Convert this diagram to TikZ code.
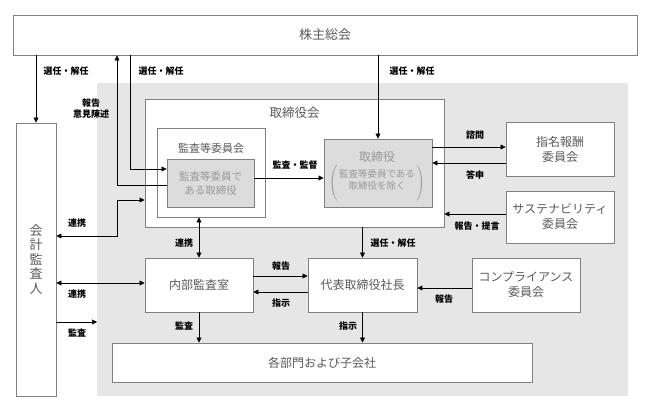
\documentclass[tikz,border=0pt]{standalone}
\usepackage{fontspec}
\setmainfont{Noto Sans CJK JP}
\usepackage{tikz}
\usetikzlibrary{arrows.meta,calc,positioning}
\definecolor{boxline}{HTML}{808080}
\definecolor{boxtext}{HTML}{5A5A5A}
\definecolor{bggray}{HTML}{E6E6E6}
\definecolor{innerfill}{HTML}{DCDCDC}
\definecolor{innertext}{HTML}{999999}
\tikzstyle{block} = [rectangle, draw=boxline, line width=0.9pt, fill=white, text=boxtext, align=center,
font=\fontsize{12}{15}\selectfont, inner sep=0pt]
\tikzstyle{greyblock} = [block, fill=innerfill, text=innertext]
\tikzstyle{title} = [text=boxtext, font=\fontsize{11}{14}\selectfont]
\tikzstyle{lbl} = [font=\bfseries\fontsize{9}{11.5}\selectfont, align=center, inner sep=1pt]
\tikzstyle{line} = [draw, line width=0.6pt, -{Triangle[length=5pt,width=5pt]}]
\tikzstyle{biline} = [line, {Triangle[length=5pt,width=5pt]}-{Triangle[length=5pt,width=5pt]}]

\begin{document}
\begin{tikzpicture}[x=1pt, y=-1pt]
\useasboundingbox (0,0) rectangle (645,410);
\fill [bggray] (97,83) rectangle (628,396);

\node [block, minimum width=624, minimum height=40, font=\fontsize{13}{15}\selectfont] (soukai) at (325,35) {株主総会};
\node [block, minimum width=40, minimum height=273, font=\fontsize{13}{14.5}\selectfont] (kaikei) at (36,259.5) {会\\計\\監\\査\\人};
\node [block, minimum width=299, minimum height=128] (torikai) at (294.5,163) {};
\node [title, font=\fontsize{12.5}{14}\selectfont] (torikaiT) at (294.5,113) {取締役会};
\node [block, minimum width=108, minimum height=89] (kansakai) at (211,172.5) {};
\node [title] (kansakaiT) at (211,148) {監査等委員会};
\node [greyblock, minimum width=87, minimum height=48, font=\fontsize{10.5}{14}\selectfont] (kansatori) at (210.5,183) {監査等委員で\\ある取締役};
\node [greyblock, minimum width=108, minimum height=68] (tori) at (378,173) {};
\node [text=innertext, font=\fontsize{12}{15}\selectfont, inner sep=0pt] (toriT) at (377,176)
{\begin{tabular}{@{}c@{}}取締役\\
{\fontsize{9.5}{11}\selectfont$\left(\,\vcenter{\hbox{\rule[-17pt]{0pt}{34pt}\begin{tabular}{@{}c@{}}監査等委員である\\取締役を除く\end{tabular}}}\,\right)$}\end{tabular}};
\node [block, minimum width=108, minimum height=54] (shimei) at (560,149) {指名報酬\\委員会};
\node [block, minimum width=108, minimum height=52] (sustain) at (560,217) {サステナビリティ\\委員会};
\node [block, minimum width=108, minimum height=54] (naibu) at (199,285) {内部監査室};
\node [block, minimum width=109, minimum height=54] (daihyo) at (362.5,285) {代表取締役社長};
\node [block, minimum width=108, minimum height=54] (comp) at (526,285) {コンプライアンス\\委員会};
\node [block, minimum width=420, minimum height=39] (kakubu) at (322,362.5) {各部門および子会社};

% heights and bends of the connectors
\coordinate (hokokuUp) at (117,185);
\coordinate (senninK) at (130,169);
\coordinate (yKansa) at (0,178);
\coordinate (renkeiA) at (117,200);
\coordinate (yRenkeiA) at (0,236);
\coordinate (yRenkeiB) at (0,283);
\coordinate (kansaEnd) at (97,322);
\coordinate (yHokoku) at (0,276);
\coordinate (yShiji) at (0,292);
\coordinate (yComp) at (0,288);
\coordinate (yShimon) at (0,147);
\coordinate (yToushin) at (0,163);
\coordinate (yTeigen) at (0,214);

\path [line] (soukai.south -| kaikei.north) -- (kaikei.north);
\path [line] (kansatori.west |- hokokuUp) -| (soukai.south -| hokokuUp);
\path [line] (soukai.south -| senninK) |- (kansatori.west |- senninK);
\path [line] (soukai.south -| tori.north) -- (tori.north);
\path [line] (kansatori.east |- yKansa) -- (tori.west |- yKansa);
\path [biline] (kaikei.east |- yRenkeiA) -| (renkeiA) -- (torikai.west |- renkeiA);
\path [biline] (naibu.north |- kansakai.south) -- (naibu.north);
\path [line] (torikai.south -| daihyo.north) -- (daihyo.north);
\path [line] (naibu.east |- yHokoku) -- (daihyo.west |- yHokoku);
\path [line] (daihyo.west |- yShiji) -- (naibu.east |- yShiji);
\path [biline] (kaikei.east |- yRenkeiB) -- (naibu.west |- yRenkeiB);
\path [line] (kaikei.east |- kansaEnd) -- (kansaEnd);
\path [line] (naibu.south) -- (naibu.south |- kakubu.north);
\path [line] (daihyo.south) -- (daihyo.south |- kakubu.north);
\path [line] (comp.west |- yComp) -- (daihyo.east |- yComp);
\path [line] (tori.east |- yShimon) -- (shimei.west |- yShimon);
\path [line] (shimei.west |- yToushin) -- (tori.east |- yToushin);
\path [line] (sustain.west |- yTeigen) -- (torikai.east |- yTeigen);

\node [lbl] (lSennin1) at (66,71) {選任・解任};
\node [lbl] (lHokoku1) at (91,108.5) {報告\\意見陳述};
\node [lbl] (lSennin2) at (161,71) {選任・解任};
\node [lbl] (lSennin3) at (412,71) {選任・解任};
\node [lbl] (lKansa1) at (295,165) {監査・監督};
\node [lbl] (lRenkei1) at (77,223) {連携};
\node [lbl] (lRenkei2) at (184,243) {連携};
\node [lbl] (lSennin4) at (393,243) {選任・解任};
\node [lbl] (lHokoku2) at (281,266) {報告};
\node [lbl] (lShiji1) at (281,303) {指示};
\node [lbl] (lRenkei3) at (77,294) {連携};
\node [lbl] (lKansa2) at (77,333) {監査};
\node [lbl] (lKansa3) at (184,326) {監査};
\node [lbl] (lShiji2) at (348,326) {指示};
\node [lbl] (lHokoku3) at (444,299) {報告};
\node [lbl] (lShimon) at (475,135) {諮問};
\node [lbl] (lToushin) at (475,175) {答申};
\node [lbl] (lTeigen) at (477,226) {報告・提言};
\end{tikzpicture}
\end{document}
